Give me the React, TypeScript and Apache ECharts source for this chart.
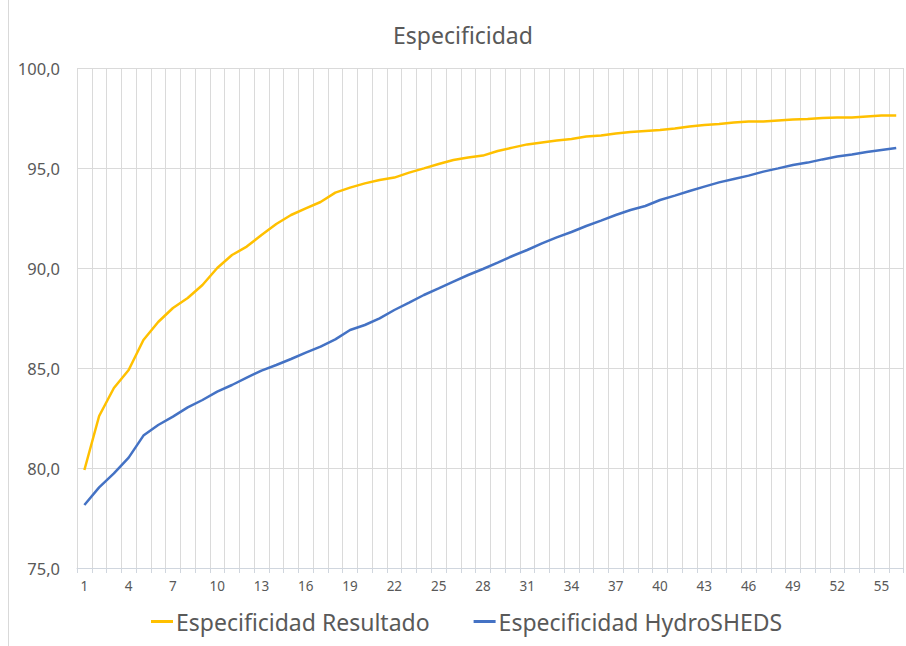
import React, { useEffect, useRef } from "react";
import * as echarts from "echarts";

const categories: string[] = Array.from({ length: 56 }, (_, i) => String(i + 1));

const resultado: number[] = [
  79.9, 82.6, 84.0, 84.9, 86.4, 87.3, 88.0, 88.5, 89.15, 90.0,
  90.65, 91.07, 91.65, 92.2, 92.65, 92.98, 93.3, 93.77, 94.02, 94.23,
  94.4, 94.52, 94.77, 94.98, 95.2, 95.4, 95.53, 95.62, 95.85, 96.02,
  96.18, 96.28, 96.37, 96.45, 96.57, 96.62, 96.73, 96.8, 96.85, 96.9,
  96.98, 97.08, 97.15, 97.2, 97.28, 97.33, 97.33, 97.38, 97.42, 97.45,
  97.5, 97.53, 97.53, 97.58, 97.62, 97.62,
];

const hydrosheds: number[] = [
  78.15, 79.03, 79.73, 80.52, 81.62, 82.15, 82.57, 83.03, 83.4, 83.82,
  84.15, 84.52, 84.87, 85.15, 85.45, 85.77, 86.07, 86.43, 86.9, 87.15,
  87.48, 87.9, 88.27, 88.65, 88.98, 89.32, 89.65, 89.95, 90.27, 90.6,
  90.9, 91.23, 91.53, 91.8, 92.1, 92.37, 92.65, 92.9, 93.1, 93.4,
  93.62, 93.85, 94.07, 94.28, 94.45, 94.62, 94.82, 94.98, 95.15, 95.27,
  95.43, 95.57, 95.68, 95.8, 95.9, 96.0,
];

const seriesNames: string[] = ["Especificidad Resultado", "Especificidad HydroSHEDS"];
const titleText = "Especificidad";

export default function App() {
  const ref = useRef<HTMLDivElement>(null);
  useEffect(() => {
    if (!ref.current) return;
    const chart = echarts.init(ref.current, null, { renderer: "svg" });
    const font = "'Noto Sans', 'Open Sans', sans-serif";
    chart.setOption({
      animation: false,
      backgroundColor: "#ffffff",
      textStyle: { fontFamily: font },
      title: {
        text: titleText,
        left: 388,
        top: 18,
        textStyle: { fontFamily: font, fontSize: 23, fontWeight: "normal", color: "#595959" },
      },
      legend: {
        bottom: 8,
        left: 146,
        itemWidth: 22,
        itemHeight: 3,
        itemGap: 44,
        icon: "rect",
        textStyle: { fontFamily: font, fontSize: 23, color: "#595959", padding: [0, 0, 0, -2] },
        data: seriesNames,
      },
      graphic: [
        { type: "line", shape: { x1: 8.5, y1: 0, x2: 8.5, y2: 646 }, style: { stroke: "#D9D9D9", lineWidth: 1 } },
      ],
      grid: { left: 77, right: 2.4, top: 68, bottom: 78, containLabel: false },
      xAxis: {
        type: "category",
        data: categories,
        boundaryGap: true,
        axisLine: { show: true, lineStyle: { color: "#D0D6DE", width: 1 } },
        axisTick: { show: true, interval: 0, length: 5, lineStyle: { color: "#D0D6DE" } },
        axisLabel: { interval: 2, fontSize: 13.5, color: "#595959", margin: 11, fontFamily: font },
        splitLine: { show: true, interval: 0, lineStyle: { color: "#DADADA", width: 1 } },
      },
      yAxis: {
        type: "value",
        min: 75,
        max: 100,
        interval: 5,
        axisLine: { show: false },
        axisTick: { show: false },
        axisLabel: {
          fontSize: 16.5,
          color: "#595959",
          margin: 17,
          fontFamily: font,
          formatter: (v: number) => v.toFixed(1).replace(".", ","),
        },
        splitLine: { show: true, lineStyle: { color: "#DADADA", width: 1 } },
      },
      series: [
        {
          name: seriesNames[0],
          type: "line",
          data: resultado,
          showSymbol: false,
          symbol: "none",
          lineStyle: { color: "#FFC000", width: 2.5 },
          itemStyle: { color: "#FFC000" },
        },
        {
          name: seriesNames[1],
          type: "line",
          data: hydrosheds,
          showSymbol: false,
          symbol: "none",
          lineStyle: { color: "#4472C4", width: 2.5 },
          itemStyle: { color: "#4472C4" },
        },
      ],
    });
    return () => chart.dispose();
  }, []);
  return (
    <div
      ref={ref}
      style={{ position: "fixed", left: 0, top: 0, width: 906, height: 646, background: "#fff" }}
    />
  );
}
